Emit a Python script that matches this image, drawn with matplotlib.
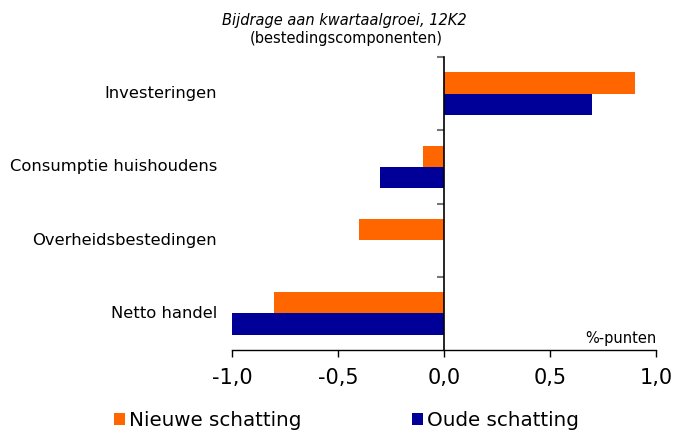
import numpy as np
import matplotlib
matplotlib.use("Agg")
import matplotlib.pyplot as plt
import matplotlib.transforms as mtransforms

categories = ["Investeringen", "Consumptie huishoudens", "Overheidsbestedingen", "Netto handel"]
nieuwe = [0.9, -0.1, -0.4, -0.8]
oude = [0.7, -0.3, 0.0, -1.0]
xticks = [-1.0, -0.5, 0.0, 0.5, 1.0]
xticklabels = ["-1,0", "-0,5", "0,0", "0,5", "1,0"]

plt.rcParams["font.family"] = ["DejaVu Sans"]

fig = plt.figure(figsize=(6.74, 4.30), dpi=100)
ax = fig.add_axes([232 / 674, 1 - 350 / 430, 424 / 674, 293 / 430])

y = np.arange(len(categories))[::-1].astype(float)
h = 0.29
ax.barh(y + h / 2, nieuwe, height=h, color="#FF6600", label="Nieuwe schatting")
ax.barh(y - h / 2, oude, height=h, color="#000099", label="Oude schatting")

ax.set_xlim(-1.0, 1.0)
ax.set_ylim(-0.5, len(categories) - 0.5)

ax.spines["top"].set_visible(False)
ax.spines["right"].set_visible(False)
ax.spines["left"].set_position(("data", 0))
ax.spines["left"].set_linewidth(1.2)
ax.spines["bottom"].set_linewidth(1.0)

ax.set_xticks(xticks)
ax.set_xticklabels(xticklabels, fontsize=15)
ax.tick_params(axis="x", direction="out", length=5, width=1, pad=8)

ax.set_yticks(np.arange(len(categories)) + 0.5)
ax.set_yticklabels([])
ax.tick_params(axis="y", direction="out", length=5, width=1.5, color="#777777")

trans = mtransforms.blended_transform_factory(ax.transAxes, ax.transData)
for yi, name in zip(y, categories):
    ax.text(-15 / 424, yi, name, transform=trans, ha="right", va="center", fontsize=11.8)

ax.text(1.0, 0.04, "%-punten", transform=ax.transAxes, ha="right", va="center", fontsize=10.5)

t1 = fig.text(344.5 / 674, 1 - 20 / 430, "Bijdrage aan kwartaalgroei, 12K2", ha="center", va="center",
              fontsize=10, style="italic")
t2 = fig.text(346.5 / 674, 1 - 38 / 430, "(bestedingscomponenten)", ha="center", va="center", fontsize=10)

# scale the title lines so their width matches the reference
renderer = fig.canvas.get_renderer()
for t, target in [(t1, 245), (t2, 193)]:
    w = t.get_window_extent(renderer).width
    t.set_fontsize(t.get_fontsize() * target / w)

fig.legend(loc="center", bbox_to_anchor=(0.514, 1 - 421 / 430), ncol=2, frameon=False,
           fontsize=14.3, handlelength=0.55, handleheight=0.55, handletextpad=0.2,
           columnspacing=5.6)

fig.savefig("out.png", dpi=100)
